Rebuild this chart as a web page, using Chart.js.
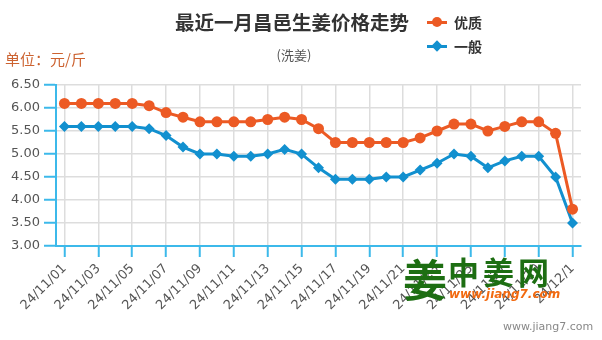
<!DOCTYPE html>
<html lang="zh">
<head>
    <meta charset="UTF-8">
    <title>最近一月昌邑生姜价格走势</title>
    <script src="https://cdn.jsdelivr.net/npm/chart.js"></script>
    <style>
        body {
            margin: 0;
            padding: 0;
            background: #fff;
            font-family: "Noto Sans CJK SC", "DejaVu Sans", sans-serif;
        }

        .wrap {
            position: relative;
            width: 602px;
            height: 340px;
        }

        .title {
            position: absolute;
            left: 0;
            width: 584px;
            top: 7px;
            text-align: center;
            font-size: 19.5px;
            font-weight: bold;
            color: #333;
        }

        .subtitle {
            position: absolute;
            left: 0;
            width: 588px;
            top: 45px;
            text-align: center;
            font-size: 13px;
            color: #555;
        }

        .unit {
            position: absolute;
            left: 5px;
            top: 48px;
            font-size: 15px;
            color: #cc6230;
        }

        .legend {
            position: absolute;
            left: 427px;
            top: 10px;
            font-size: 14px;
            font-weight: bold;
            color: #333;
        }

        .legend-item {
            display: flex;
            align-items: center;
            height: 24px;
        }

        .legend-line {
            position: relative;
            width: 20px;
            height: 3px;
            margin-right: 7px;
        }

        .legend-line span {
            position: absolute;
            left: 5px;
            top: -4px;
            width: 10px;
            height: 10px;
        }

        .dot { border-radius: 50%; }
        .diamond { transform: rotate(45deg) scale(0.8); }

        .logo {
            position: absolute;
            left: 403px;
            top: 250px;
            color: #1d6e12;
        }

        .logo .big {
            position: absolute;
            left: 0;
            top: 0;
            font-size: 44px;
            font-weight: bold;
            line-height: 56px;
        }

        .logo .name {
            position: absolute;
            left: 45px;
            top: 2px;
            font-size: 31px;
            font-weight: bold;
            letter-spacing: 4px;
            white-space: nowrap;
            line-height: 38px;
        }

        .logo .url {
            position: absolute;
            left: 46px;
            top: 37px;
            font-family: "DejaVu Sans", sans-serif;
            font-size: 12px;
            font-weight: bold;
            font-style: italic;
            color: #f26a10;
            white-space: nowrap;
        }

        .site {
            position: absolute;
            left: 503px;
            top: 320px;
            font-family: "DejaVu Sans", sans-serif;
            font-size: 11px;
            color: #888;
        }
    </style>
</head>
<body>
    <div class="wrap">
        <canvas id="priceChart" width="602" height="340"></canvas>

        <div class="title">最近一月昌邑生姜价格走势</div>
        <div class="subtitle">(洗姜)</div>
        <div class="unit">单位：元/斤</div>

        <div class="legend">
            <div class="legend-item">
                <div class="legend-line" style="background:#ec5a24"><span class="dot" style="background:#ec5a24"></span></div>优质
            </div>
            <div class="legend-item">
                <div class="legend-line" style="background:#1290cf"><span class="diamond" style="background:#1290cf"></span></div>一般
            </div>
        </div>

        <div class="logo">
            <div class="big">姜</div>
            <div class="name">中姜网</div>
            <div class="url">www.jiang7.com</div>
        </div>
        <div class="site">www.jiang7.com</div>
    </div>

    <script>
        const dates = [
            '24/11/01', '24/11/02', '24/11/03', '24/11/04', '24/11/05', '24/11/06', '24/11/07', '24/11/08',
            '24/11/09', '24/11/10', '24/11/11', '24/11/12', '24/11/13', '24/11/14', '24/11/15', '24/11/16',
            '24/11/17', '24/11/18', '24/11/19', '24/11/20', '24/11/21', '24/11/22', '24/11/23', '24/11/24',
            '24/11/25', '24/11/26', '24/11/27', '24/11/28', '24/11/29', '24/11/30', '24/12/1'
        ];
        const youzhi = [6.1, 6.1, 6.1, 6.1, 6.1, 6.05, 5.9, 5.8, 5.7, 5.7, 5.7, 5.7, 5.75, 5.8, 5.75, 5.55,
            5.25, 5.25, 5.25, 5.25, 5.25, 5.35, 5.5, 5.65, 5.65, 5.5, 5.6, 5.7, 5.7, 5.45, 3.8];
        const yiban = [5.6, 5.6, 5.6, 5.6, 5.6, 5.55, 5.4, 5.15, 5.0, 5.0, 4.95, 4.95, 5.0, 5.1, 5.0, 4.7,
            4.45, 4.45, 4.45, 4.5, 4.5, 4.65, 4.8, 5.0, 4.95, 4.7, 4.85, 4.95, 4.95, 4.5, 3.5];
        const yMin = 3.0;
        const yMax = 6.5;
        const yStep = 0.5;

        const axisColor = '#3cb9ea';
        const gridColor = '#dddddd';

        const ctx = document.getElementById('priceChart').getContext('2d');
        new Chart(ctx, {
            type: 'line',
            data: {
                labels: dates,
                datasets: [{
                    label: '优质',
                    data: youzhi,
                    borderColor: '#ec5a24',
                    backgroundColor: '#ec5a24',
                    borderWidth: 3,
                    pointStyle: 'circle',
                    pointRadius: 5.5,
                    pointBorderWidth: 0,
                    tension: 0
                }, {
                    label: '一般',
                    data: yiban,
                    borderColor: '#1290cf',
                    backgroundColor: '#1290cf',
                    borderWidth: 3,
                    pointStyle: 'rectRot',
                    pointRadius: 5.5,
                    pointBorderWidth: 0,
                    tension: 0
                }]
            },
            options: {
                responsive: false,
                animation: false,
                layout: {
                    padding: { top: 85, right: 21, left: 0, bottom: 0 }
                },
                plugins: {
                    legend: { display: false },
                    title: { display: false },
                    tooltip: { enabled: false }
                },
                scales: {
                    x: {
                        offset: true,
                        afterFit: s => { s.height = 94; },
                        grid: {
                            offset: false,
                            color: c => c.index % 2 === 0 ? gridColor : 'rgba(0,0,0,0)',
                            tickColor: c => c.index % 2 === 0 ? axisColor : 'rgba(0,0,0,0)',
                            tickLength: 11,
                            lineWidth: 1.5,
                            tickWidth: 2
                        },
                        border: { color: axisColor, width: 2 },
                        ticks: {
                            autoSkip: false,
                            minRotation: 45,
                            maxRotation: 45,
                            padding: 4,
                            color: '#555',
                            font: { family: 'DejaVu Sans', size: 13 },
                            callback: function (v, i) { return i % 2 === 0 ? this.getLabelForValue(v) : ''; }
                        }
                    },
                    y: {
                        min: yMin,
                        max: yMax,
                        afterFit: s => { s.width = 56; },
                        grid: {
                            color: gridColor,
                            tickColor: axisColor,
                            tickLength: 12,
                            lineWidth: 1.5,
                            tickWidth: 2
                        },
                        border: { color: axisColor, width: 2 },
                        ticks: {
                            stepSize: yStep,
                            padding: 4,
                            color: '#555',
                            font: { family: 'DejaVu Sans', size: 13 },
                            callback: v => v.toFixed(2)
                        }
                    }
                }
            }
        });
    </script>
</body>
</html>
